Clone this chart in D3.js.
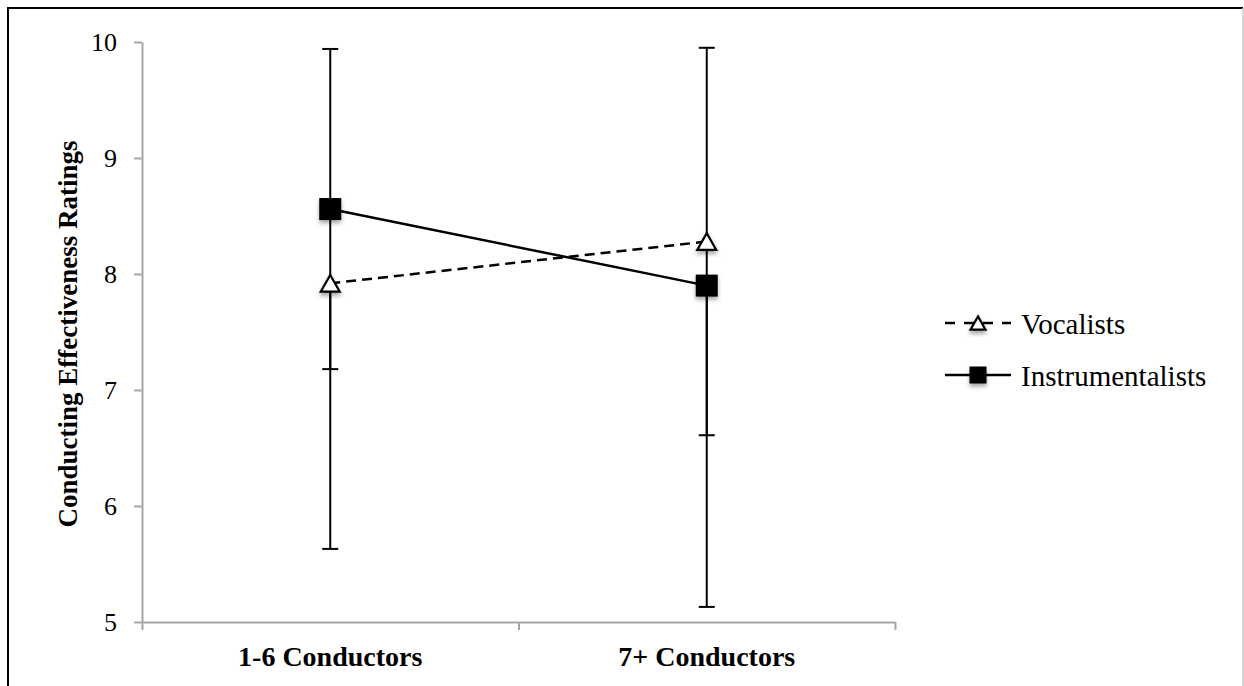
<!DOCTYPE html>
<html>
<head>
<meta charset="utf-8">
<script src="https://cdn.jsdelivr.net/npm/d3@7"></script>
<style>
  html, body { margin: 0; padding: 0; background: #fff; }
  svg { display: block; }
  text { font-family: "Liberation Serif", "Times New Roman", serif; fill: #000; }
</style>
</head>
<body>
<svg id="chart" width="1244" height="686"></svg>
<script>
// Mean conducting-effectiveness ratings with error bars, by ensemble background
const categories = ["1-6 Conductors", "7+ Conductors"];
const seriesNames = ["Vocalists", "Instrumentalists"];
const vocalistMeans = [7.92, 8.28];
const vocalistErrors = [2.29, 1.67];
const instrumentalistMeans = [8.56, 7.90];
const instrumentalistErrors = [1.38, 2.77];
const yTicks = [5, 6, 7, 8, 9, 10];
const yTitle = "Conducting Effectiveness Ratings";

const series = [
  { name: seriesNames[0], means: vocalistMeans, errors: vocalistErrors, marker: "triangle", dash: "10,6" },
  { name: seriesNames[1], means: instrumentalistMeans, errors: instrumentalistErrors, marker: "square", dash: null }
];

const svg = d3.select("#chart");
const plot = { left: 142, right: 895, top: 42, bottom: 622 };

// outer frame
svg.append("path")
  .attr("d", "M8,700V8H1243")
  .attr("fill", "none").attr("stroke", "#000").attr("stroke-width", 2);
svg.append("line")
  .attr("x1", 1243).attr("x2", 1243).attr("y1", 8).attr("y2", 700)
  .attr("stroke", "#c8c8c8").attr("stroke-width", 1.5);

// soft shadow under markers
const defs = svg.append("defs");
defs.append("filter").attr("id", "markerShadow")
  .attr("x", "-50%").attr("y", "-50%").attr("width", "200%").attr("height", "200%")
  .append("feDropShadow")
  .attr("dx", 0).attr("dy", 3).attr("stdDeviation", 2.2)
  .attr("flood-color", "#000").attr("flood-opacity", 0.35);

const y = d3.scaleLinear().domain([5, 10]).range([plot.bottom, plot.top]);
const x = d3.scaleBand().domain(categories).range([plot.left, plot.right]).padding(0);
const xEdge = d3.scaleLinear().domain([0, categories.length]).range([plot.left, plot.right]);
const cx = c => x(c) + x.bandwidth() / 2;

const axisColor = "#a6a6a6";

// y axis
const yAxis = svg.append("g")
  .attr("transform", `translate(${plot.left},0)`)
  .call(d3.axisLeft(y).tickValues(yTicks).tickFormat(d3.format("d"))
    .tickSize(8).tickSizeOuter(0).tickPadding(17));
yAxis.select(".domain").attr("stroke", axisColor).attr("stroke-width", 2);
yAxis.selectAll(".tick line").attr("stroke", axisColor).attr("stroke-width", 2);
yAxis.selectAll(".tick text")
  .attr("font-size", 26).attr("font-family", "Liberation Serif, serif").attr("fill", "#000");

// x axis with ticks between categories
const xAxis = svg.append("g")
  .attr("transform", `translate(0,${plot.bottom})`)
  .call(d3.axisBottom(xEdge).tickValues(d3.range(categories.length + 1))
    .tickFormat("").tickSize(8).tickSizeOuter(0));
xAxis.select(".domain").attr("stroke", axisColor).attr("stroke-width", 2);
xAxis.selectAll(".tick line").attr("stroke", axisColor).attr("stroke-width", 2);

// category labels
svg.append("g").selectAll("text")
  .data(categories).join("text")
  .attr("x", d => cx(d)).attr("y", 666)
  .attr("text-anchor", "middle")
  .attr("font-size", 28).attr("font-weight", "bold")
  .text(d => d);

// y axis title
svg.append("text")
  .attr("transform", "translate(77,334) rotate(-90)")
  .attr("text-anchor", "middle")
  .attr("font-size", 27).attr("font-weight", "bold")
  .text(yTitle);

// error bars (arms that run past the axis maximum are left out)
const [yMin, yMax] = y.domain();
const capHalf = 8;
const errG = svg.append("g");
series.forEach(s => {
  categories.forEach((c, i) => {
    const m = s.means[i], e = s.errors[i];
    const ends = [m - e, m + e];
    ends.forEach(end => {
      if (end < yMin || end > yMax) return;
      errG.append("line")
        .attr("x1", cx(c)).attr("x2", cx(c))
        .attr("y1", y(m)).attr("y2", y(end))
        .attr("stroke", "#000").attr("stroke-width", 2);
      errG.append("line")
        .attr("x1", cx(c) - capHalf).attr("x2", cx(c) + capHalf)
        .attr("y1", y(end)).attr("y2", y(end))
        .attr("stroke", "#000").attr("stroke-width", 2);
    });
  });
});

// series lines
const line = d3.line().x((d, i) => cx(categories[i])).y(d => y(d));
series.forEach(s => {
  svg.append("path")
    .attr("d", line(s.means))
    .attr("fill", "none").attr("stroke", "#000").attr("stroke-width", 2.5)
    .attr("stroke-dasharray", s.dash);
});

function drawMarker(g, type, px, py, size) {
  if (type === "square") {
    g.append("rect")
      .attr("x", px - size / 2).attr("y", py - size / 2)
      .attr("width", size).attr("height", size)
      .attr("fill", "#000").attr("filter", "url(#markerShadow)");
  } else {
    const h = size * 0.88;
    g.append("path")
      .attr("d", `M${px},${py - h / 2}L${px + size / 2},${py + h / 2}L${px - size / 2},${py + h / 2}Z`)
      .attr("fill", "#fff").attr("stroke", "#000").attr("stroke-width", 2.2)
      .attr("stroke-linejoin", "miter")
      .attr("filter", "url(#markerShadow)");
  }
}

// markers
const markerG = svg.append("g");
series.forEach(s => {
  s.means.forEach((m, i) => {
    drawMarker(markerG, s.marker, cx(categories[i]), y(m), s.marker === "square" ? 22 : 19);
  });
});

// legend
const legend = svg.append("g");
const legendRows = [323, 375];
series.forEach((s, i) => {
  const ry = legendRows[i];
  legend.append("line")
    .attr("x1", 945).attr("x2", 1011).attr("y1", ry).attr("y2", ry)
    .attr("stroke", "#000").attr("stroke-width", 2.5)
    .attr("stroke-dasharray", s.dash ? "10,9" : null);
  drawMarker(legend, s.marker, 978, ry, s.marker === "square" ? 17 : 15);
  legend.append("text")
    .attr("x", 1021).attr("y", ry + 11)
    .attr("font-size", 29)
    .text(s.name);
});
</script>
</body>
</html>
